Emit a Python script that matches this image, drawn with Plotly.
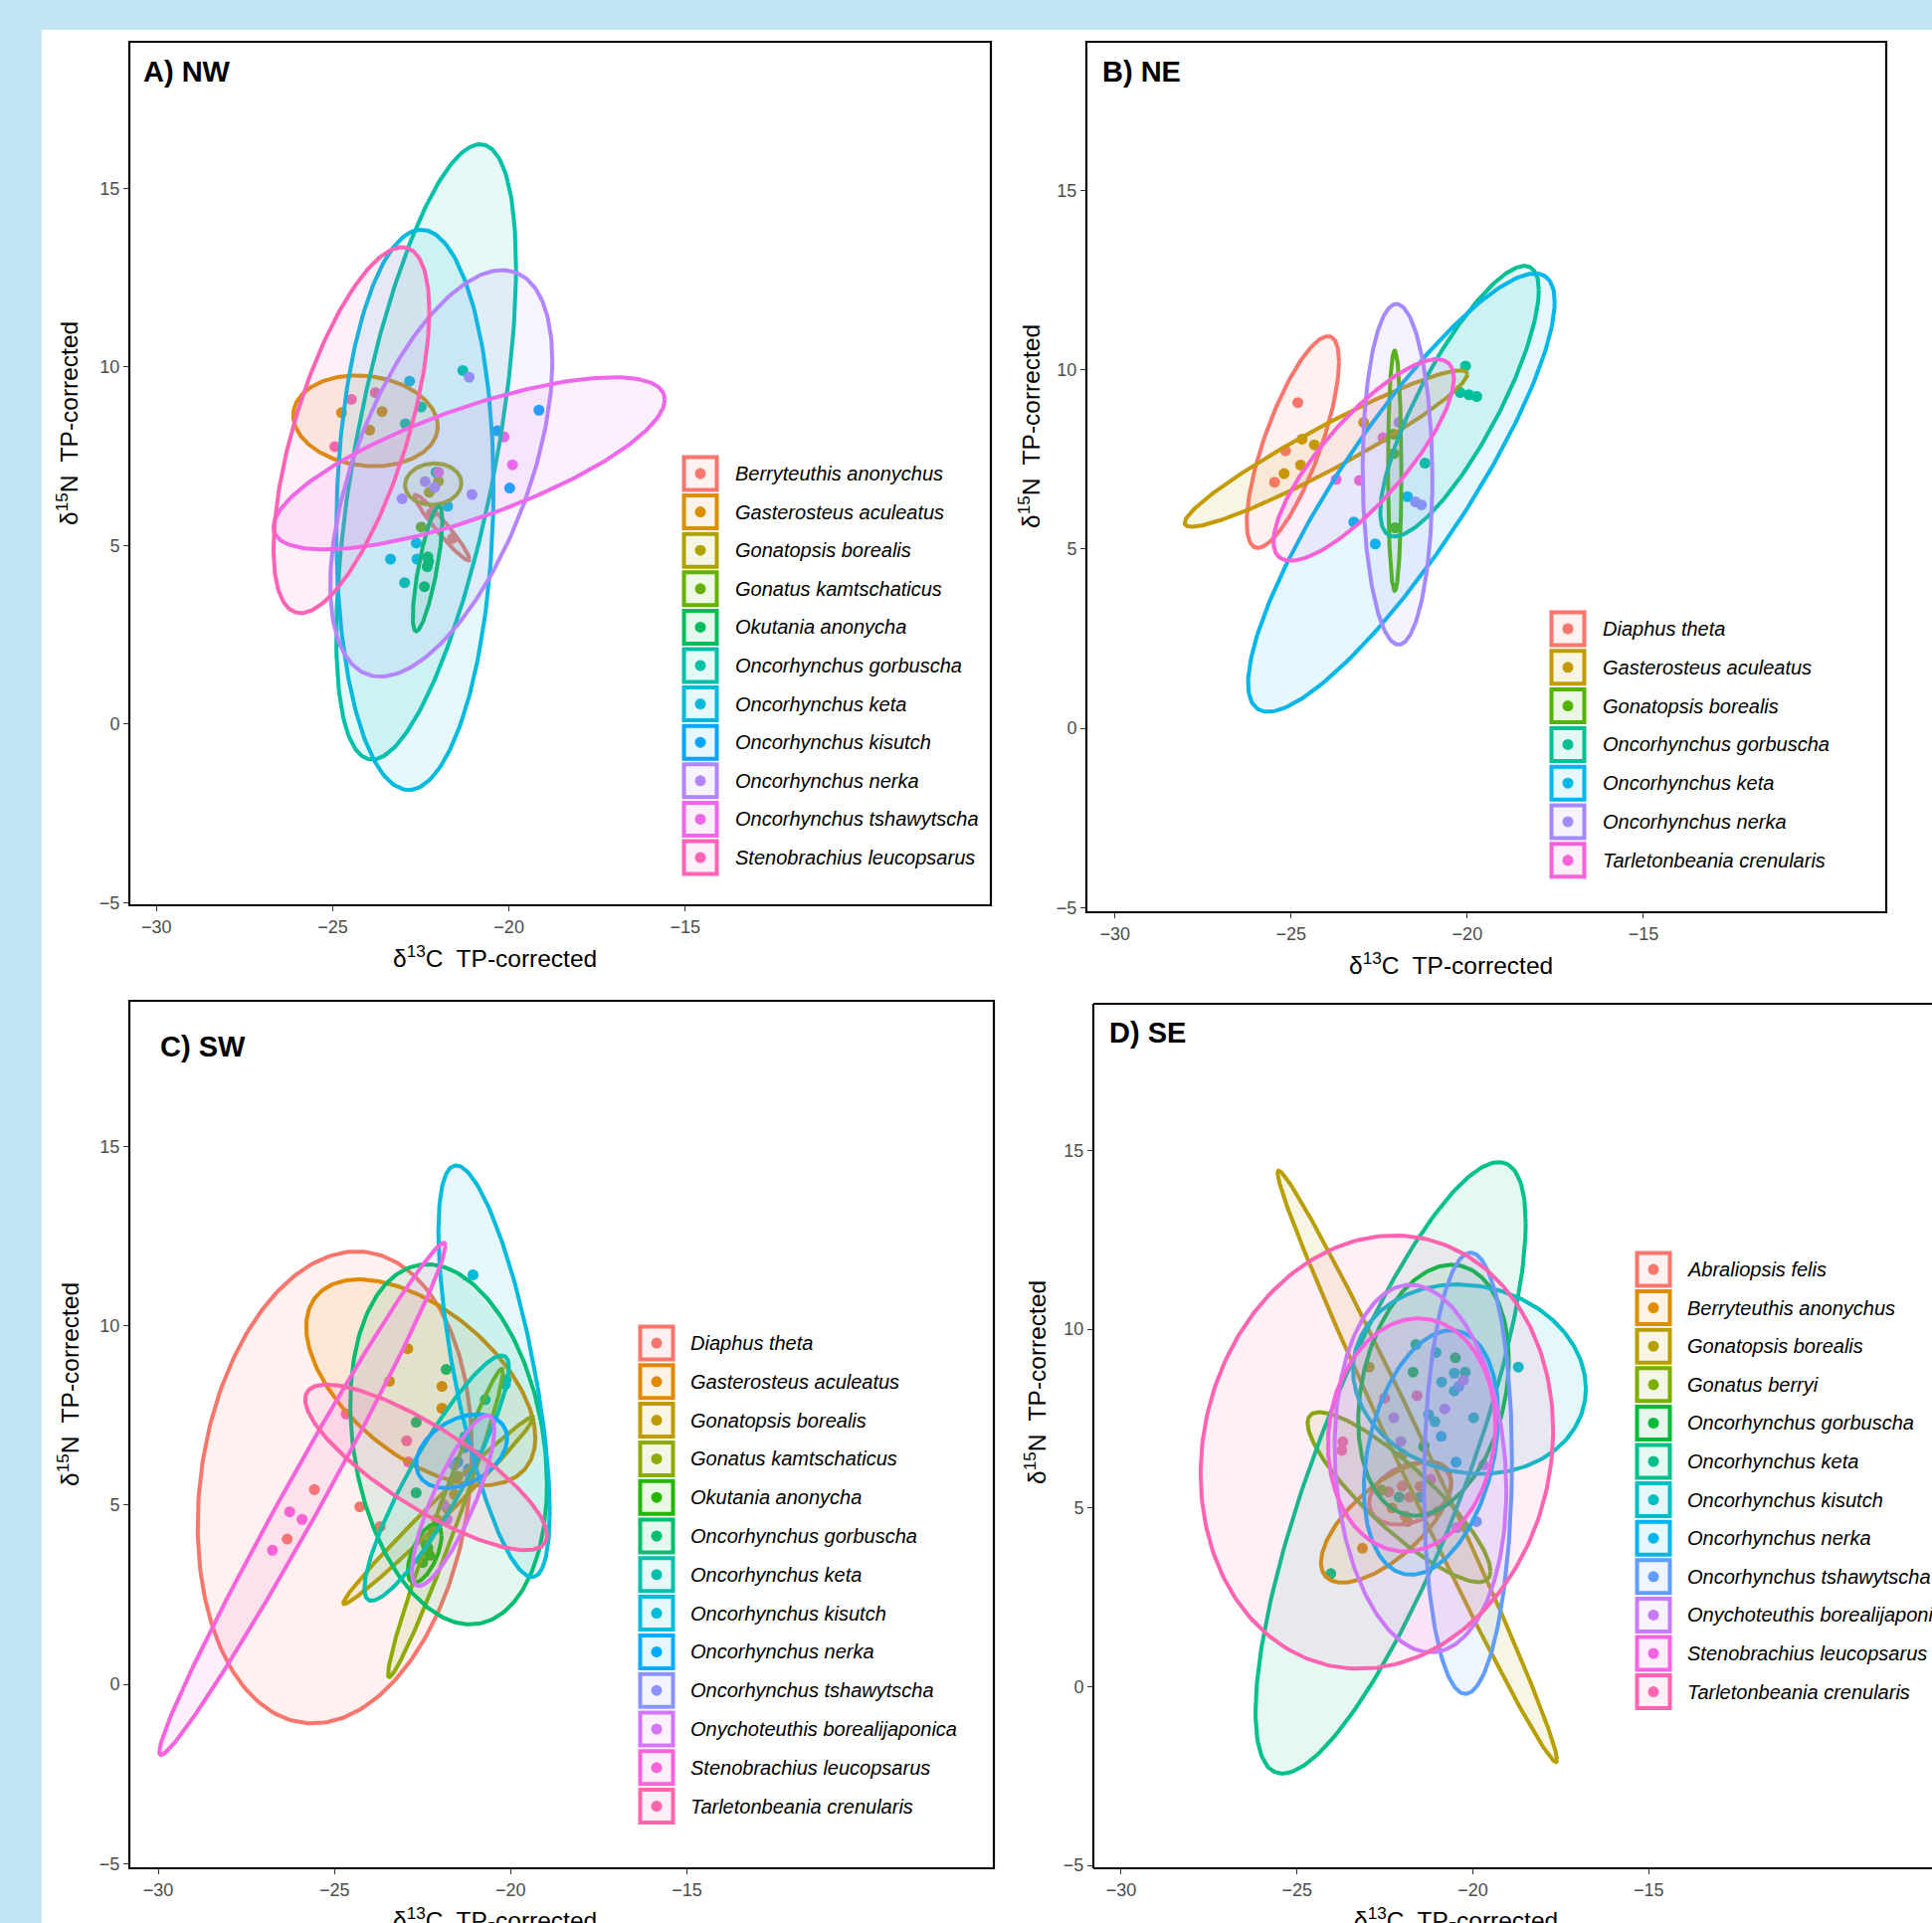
import math
import numpy as np
import plotly.graph_objects as go

W, H = 1942, 1933
FONT = "Liberation Sans, Arial, Helvetica, sans-serif"

X_TICKS = [-30, -25, -20, -15]
Y_TICKS = [-5, 0, 5, 10, 15]

# ---------------- Panel A) NW ----------------
A_species = ["Berryteuthis anonychus", "Gasterosteus aculeatus", "Gonatopsis borealis",
             "Gonatus kamtschaticus", "Okutania anonycha", "Oncorhynchus gorbuscha",
             "Oncorhynchus keta", "Oncorhynchus kisutch", "Oncorhynchus nerka",
             "Oncorhynchus tshawytscha", "Stenobrachius leucopsarus"]
A_cx = [-21.9, -24.07, -22.15, None, -22.31, -22.35, -22.67, None, -21.92, -21.13, -24.47]
A_cy = [5.5, 8.49, 6.72, None, 4.35, 7.62, 6.0, None, 7.02, 7.30, 8.23]
A_sx = [0.78, 2.05, 0.80, None, 0.42, 2.55, 2.23, None, 3.15, 5.55, 2.21]
A_sy = [0.92, 1.27, 0.58, None, 1.75, 8.61, 7.84, None, 5.69, 2.41, 5.12]
A_rho = [-0.96, -0.12, 0.05, None, 0.77, 0.60, 0.08, None, 0.55, 0.74, 0.65]
A_px = [[-22.2, -21.6], [-24.75, -23.60, -23.95], [-22.26, -22.0], [-22.49],
        [-22.30, -22.32, -22.40, -22.28], [-21.31, -22.49, -22.94, -22.07, -22.96],
        [-22.82, -23.36, -22.63, -22.61, -21.74], [-19.15, -19.98, -20.33],
        [-21.13, -23.03, -21.05, -22.11, -22.38], [-20.14, -19.90, -22.0],
        [-24.47, -23.79, -24.94]]
A_py = [[5.9, 5.2], [8.72, 8.75, 8.23], [6.49, 6.8], [5.52],
        [4.68, 4.41, 3.85, 4.55], [9.90, 8.88, 8.41, 7.05, 3.96],
        [9.60, 4.62, 5.07, 4.62, 6.10], [8.79, 6.61, 8.21],
        [9.71, 6.31, 6.43, 6.63, 6.79], [8.04, 7.26, 7.05],
        [9.09, 9.28, 7.77]]

# ---------------- Panel B) NE ----------------
B_species = ["Diaphus theta", "Gasterosteus aculeatus", "Gonatopsis borealis",
             "Oncorhynchus gorbuscha", "Oncorhynchus keta", "Oncorhynchus nerka",
             "Tarletonbeania crenularis"]
B_cx = [-24.95, -24.01, -22.06, -20.22, -21.87, -21.98, -22.94]
B_cy = [7.98, 7.80, 7.18, 9.12, 6.57, 7.08, 7.48]
B_sx = [1.31, 4.01, 0.19, 2.25, 4.35, 0.99, 2.56]
B_sy = [2.95, 2.18, 3.35, 3.77, 6.11, 4.75, 2.81]
B_rho = [0.76, 0.95, 0.0, 0.82, 0.87, -0.03, 0.81]
B_px = [[-24.81, -25.47, -25.16], [-25.2, -24.73, -24.34, -22.94, -24.69],
        [-22.08, -22.05, -22.1], [-20.05, -20.2, -19.73, -19.95, -21.2],
        [-23.22, -22.61, -21.7], [-21.47, -21.3, -21.94],
        [-23.72, -23.06, -22.39]]
B_py = [[9.08, 6.86, 7.74], [7.10, 7.34, 7.90, 8.53, 8.06],
        [7.66, 5.59, 8.2], [10.10, 9.36, 9.25, 9.3, 7.39],
        [5.75, 5.14, 6.46], [6.31, 6.23, 8.53],
        [6.94, 6.91, 8.10]]

# ---------------- Panel C) SW ----------------
C_species = ["Diaphus theta", "Gasterosteus aculeatus", "Gonatopsis borealis",
             "Gonatus kamtschaticus", "Okutania anonycha", "Oncorhynchus gorbuscha",
             "Oncorhynchus keta", "Oncorhynchus kisutch", "Oncorhynchus nerka",
             "Oncorhynchus tshawytscha", "Onychoteuthis borealijaponica",
             "Stenobrachius leucopsarus", "Tarletonbeania crenularis"]
C_cx = [-24.99, -22.55, -22.05, -21.85, -22.44, -21.76, -22.1, -20.47, -21.39, None, -21.63, -25.91, -22.4]
C_cy = [5.49, 8.42, 4.85, 4.5, 3.65, 6.69, 5.75, 8.73, 6.5, None, 5.12, 5.17, 6.05]
C_sx = [3.89, 3.25, 2.70, 1.63, 0.48, 2.79, 2.05, 1.58, 1.29, None, 1.17, 4.06, 3.43]
C_sy = [6.58, 2.87, 2.61, 4.30, 0.82, 5.02, 3.42, 5.74, 1.03, None, 2.38, 7.14, 2.31]
C_rho = [0.16, -0.54, 0.99, 0.979, 0.6, -0.22, 0.90, -0.68, 0.35, None, 0.83, 0.988, -0.82]
C_px = [[-25.57, -24.28, -26.34, -23.7], [-22.92, -21.95, -23.44, -21.95],
        [-21.79, -22.1, -21.6], [-22.2, -21.5, -21.9],
        [-22.4, -22.3, -22.5, -22.35], [-21.83, -22.68, -22.68],
        [-20.72, -20.13, -21.3], [-21.07, -20.15],
        [-21.3, -21.0, -21.5, -21.2], [-21.2, -21.6],
        [-21.9, -21.8], [-26.27, -25.92, -26.76],
        [-22.95, -24.67, -22.9]]
C_py = [[5.43, 4.95, 4.05, 4.4], [9.36, 8.31, 8.45, 7.70],
        [4.89, 4.6, 5.3], [4.3, 5.8, 5.0],
        [3.9, 3.6, 3.4, 3.8], [8.78, 7.31, 5.34],
        [7.94, 8.49, 6.9], [11.42, 8.36],
        [6.6, 6.4, 6.2, 6.0], [5.9, 6.1],
        [5.0, 4.6], [4.81, 4.60, 3.74],
        [6.79, 7.54, 6.2]]

# ---------------- Panel D) SE ----------------
D_species = ["Abraliopsis felis", "Berryteuthis anonychus", "Gonatopsis borealis",
             "Gonatus berryi", "Oncorhynchus gorbuscha", "Oncorhynchus keta",
             "Oncorhynchus kisutch", "Oncorhynchus nerka", "Oncorhynchus tshawytscha",
             "Onychoteuthis borealijaponica", "Stenobrachius leucopsarus",
             "Tarletonbeania crenularis"]
D_cx = [-21.78, -22.47, -21.58, -22.1, -21.12, -22.34, -20.1, -21.19, -20.14, -21.49, -21.74, -22.73]
D_cy = [5.4, 4.6, 6.16, 5.3, 8.29, 6.12, 8.6, 6.55, 5.97, 6.1, 7.04, 6.56]
D_sx = [1.17, 1.85, 3.97, 2.6, 2.14, 3.84, 3.31, 1.91, 1.25, 2.44, 2.38, 5.01]
D_sy = [0.87, 1.69, 8.27, 2.38, 3.51, 8.55, 2.65, 3.42, 6.17, 5.14, 3.26, 6.06]
D_rho = [0.3, 0.67, -0.992, -0.87, 0.24, 0.80, -0.1, 0.30, 0.06, -0.12, 0.08, 0.1]
D_px = [[-22.01, -21.8, -21.93, -22.4, -21.5], [-23.14, -21.86, -22.3],
        [-22.95, -22.0], [-21.4, -22.6, -21.0],
        [-21.7, -21.39, -20.5], [-24.04, -21.62, -20.22, -22.1],
        [-21.05, -20.53, -20.89, -20.53, -19.98, -18.71, -21.26, -21.08],
        [-20.48, -21.5, -20.9], [-19.9, -20.4, -20.3],
        [-22.25, -22.05, -20.8, -20.27, -19.7, -20.45], [-21.2],
        [-23.73, -23.7, -22.51, -21.59]]
D_py = [[5.61, 5.3, 4.78, 5.45, 5.6], [3.87, 4.62, 5.0],
        [8.94, 6.5], [6.7, 5.5, 4.9],
        [8.80, 6.74, 9.2], [3.16, 9.57, 8.80, 5.3],
        [9.35, 8.77, 8.52, 8.27, 7.52, 8.94, 7.61, 7.41],
        [6.28, 5.3, 7.0], [4.62, 8.4, 4.5],
        [7.52, 6.86, 7.77, 8.57, 6.2, 4.45], [5.8],
        [6.61, 6.85, 8.07, 8.14]]


# ---------------- colour helpers (ggplot2 default hue palette) ----------------
def hcl_hex(h, c=100.0, l=65.0):
    WY, Wu, Wv = 100.0, 0.1978398, 0.4683363
    U = c * math.cos(math.radians(h))
    V = c * math.sin(math.radians(h))
    Y = WY * ((l + 16) / 116) ** 3 if l > 7.999592 else WY * l / 903.3
    u = U / (13 * l) + Wu
    v = V / (13 * l) + Wv
    X = 9.0 * Y * u / (4 * v)
    Z = -X / 3 - 5 * Y + 3 * Y / v

    def g(t):
        return 1.055 * t ** (1 / 2.4) - 0.055 if t > 0.00304 else 12.92 * t
    r = g((3.240479 * X - 1.537150 * Y - 0.498535 * Z) / WY)
    gg = g((-0.969256 * X + 1.875992 * Y + 0.041556 * Z) / WY)
    b = g((0.055648 * X - 0.204043 * Y + 1.057311 * Z) / WY)
    vals = [max(0, min(255, int(round(255 * max(0.0, min(1.0, q)))))) for q in (r, gg, b)]
    return "#%02X%02X%02X" % tuple(vals)


def hue_pal(n):
    return [hcl_hex(15 + 360.0 * i / n) for i in range(n)]


def rgba(hexc, a):
    hexc = hexc.lstrip("#")
    return "rgba(%d,%d,%d,%.3f)" % (int(hexc[0:2], 16), int(hexc[2:4], 16), int(hexc[4:6], 16), a)


# ---------------- layout of the four panels (pixels) ----------------
panels = [
    dict(label="A) NW", sp=A_species, cx=A_cx, cy=A_cy, sx=A_sx, sy=A_sy, rho=A_rho, px=A_px, py=A_py,
         box=(130, 42, 996, 910), xr=(-30.77, -6.33), yr=(-5.07, 19.1),
         lab=(142, 72), ytit=(68, 426), xtit=(497, 961), leg=(704, 476, 38.6, 737), right=True),
    dict(label="B) NE", sp=B_species, cx=B_cx, cy=B_cy, sx=B_sx, sy=B_sy, rho=B_rho, px=B_px, py=B_py,
         box=(1092, 42, 1896, 917), xr=(-30.81, -8.11), yr=(-5.13, 19.14),
         lab=(1106, 72), ytit=(1035, 429), xtit=(1458, 968), leg=(1576, 632, 38.8, 1609), right=True),
    dict(label="C) SW", sp=C_species, cx=C_cx, cy=C_cy, sx=C_sx, sy=C_sy, rho=C_rho, px=C_px, py=C_py,
         box=(130, 1006, 999, 1878), xr=(-30.82, -6.29), yr=(-5.13, 19.06),
         lab=(159, 1052), ytit=(68, 1392), xtit=(497, 1928), leg=(660, 1350, 38.8, 692), right=True),
    dict(label="D) SE", sp=D_species, cx=D_cx, cy=D_cy, sx=D_sx, sy=D_sy, rho=D_rho, px=D_px, py=D_py,
         box=(1099, 1009, 1942, 1878), xr=(-30.79, -6.95), yr=(-5.08, 19.1),
         lab=(1113, 1038), ytit=(1040, 1390), xtit=(1463, 1928), leg=(1662, 1276, 38.6, 1694), right=False),
]

fig = go.Figure()
shapes = []
annotations = []

# white canvas inside the light-blue frame
shapes.append(dict(type="rect", xref="paper", yref="paper", x0=42 / W, x1=1.0, y0=0.0, y1=1 - 30 / H,
                   fillcolor="white", line=dict(width=0), layer="below"))

t = np.linspace(0, 2 * np.pi, 241)

for k, p in enumerate(panels):
    idx = "" if k == 0 else str(k + 1)
    xa, ya = "x" + idx, "y" + idx
    cols = hue_pal(len(p["sp"]))
    l, tp, r, b = p["box"]

    # points first
    for i, name in enumerate(p["sp"]):
        fig.add_trace(go.Scatter(x=p["px"][i], y=p["py"][i], mode="markers", xaxis=xa, yaxis=ya,
                                 marker=dict(color=cols[i], size=11, line=dict(width=0)),
                                 name=name, showlegend=False, hoverinfo="skip"))
    # ellipses
    for i, name in enumerate(p["sp"]):
        if p["cx"][i] is None:
            continue
        cx, cy, sx, sy, rho = p["cx"][i], p["cy"][i], p["sx"][i], p["sy"][i], p["rho"][i]
        ex = cx + sx * np.cos(t)
        ey = cy + sy * (rho * np.cos(t) + math.sqrt(max(0.0, 1 - rho * rho)) * np.sin(t))
        fig.add_trace(go.Scatter(x=ex, y=ey, mode="lines", xaxis=xa, yaxis=ya, fill="toself",
                                 fillcolor=rgba(cols[i], 0.10),
                                 line=dict(color=cols[i], width=4),
                                 name=name, showlegend=False, hoverinfo="skip"))

    axis_common = dict(showgrid=False, zeroline=False, showline=False, ticks="outside", ticklen=5,
                       tickwidth=1.3, tickcolor="#333333",
                       tickfont=dict(family=FONT, size=18, color="#4D4D4D"), automargin=False)
    fig.layout["xaxis" + idx] = dict(domain=[l / W, min(1.0, r / W)], range=list(p["xr"]), anchor=ya,
                                     tickvals=X_TICKS, **axis_common)
    fig.layout["yaxis" + idx] = dict(domain=[1 - b / H, 1 - tp / H], range=list(p["yr"]), anchor=xa,
                                     tickvals=Y_TICKS, **axis_common)

    # panel border
    if p["right"]:
        shapes.append(dict(type="rect", xref="paper", yref="paper", x0=l / W, x1=r / W,
                           y0=1 - b / H, y1=1 - tp / H, line=dict(color="black", width=2.2),
                           fillcolor="rgba(0,0,0,0)", layer="above"))
    else:
        for (ax0, ay0, ax1, ay1) in [(l, tp, 1.03 * W, tp), (l, b, 1.03 * W, b), (l, tp, l, b)]:
            shapes.append(dict(type="line", xref="paper", yref="paper", x0=ax0 / W, x1=ax1 / W,
                               y0=1 - ay0 / H, y1=1 - ay1 / H, line=dict(color="black", width=2.2),
                               layer="above"))

    # panel label
    annotations.append(dict(text="<b>%s</b>" % p["label"], xref="paper", yref="paper",
                            x=p["lab"][0] / W, y=1 - p["lab"][1] / H, xanchor="left", yanchor="middle",
                            showarrow=False, font=dict(family=FONT, size=29, color="black")))
    # axis titles
    annotations.append(dict(text="δ<sup>15</sup>N\u00a0 TP-corrected", xref="paper", yref="paper",
                            x=p["ytit"][0] / W, y=1 - p["ytit"][1] / H, xanchor="center", yanchor="middle",
                            textangle=-90, showarrow=False, font=dict(family=FONT, size=24.5, color="black")))
    annotations.append(dict(text="δ<sup>13</sup>C\u00a0 TP-corrected", xref="paper", yref="paper",
                            x=p["xtit"][0] / W, y=1 - p["xtit"][1] / H, xanchor="center", yanchor="middle",
                            showarrow=False, font=dict(family=FONT, size=24.5, color="black")))

    # legend (key boxes with dot + italic labels)
    kx, ky0, step, tx = p["leg"]
    half = 16.5
    for i, name in enumerate(p["sp"]):
        ky = ky0 + i * step
        shapes.append(dict(type="rect", xref="paper", yref="paper",
                           x0=(kx - half) / W, x1=(kx + half) / W, y0=1 - (ky + half) / H, y1=1 - (ky - half) / H,
                           line=dict(color=cols[i], width=4), fillcolor=rgba(cols[i], 0.10), layer="above"))
        shapes.append(dict(type="circle", xref="paper", yref="paper",
                           x0=(kx - 5.5) / W, x1=(kx + 5.5) / W, y0=1 - (ky + 5.5) / H, y1=1 - (ky - 5.5) / H,
                           line=dict(width=0), fillcolor=cols[i], layer="above"))
        annotations.append(dict(text="<i>%s</i>" % name, xref="paper", yref="paper",
                                x=tx / W, y=1 - ky / H, xanchor="left", yanchor="middle", showarrow=False,
                                font=dict(family=FONT, size=20, color="black")))

fig.update_layout(width=W, height=H, margin=dict(l=0, r=0, t=0, b=0),
                  paper_bgcolor="#C3E5F5", plot_bgcolor="white",
                  showlegend=False, shapes=shapes, annotations=annotations)

fig.write_html("out.html", config={"displayModeBar": False},
               post_script="document.body.style.margin='0px';document.body.style.padding='0px';"
                           "document.body.style.background='#C3E5F5';document.body.style.overflow='hidden';")
